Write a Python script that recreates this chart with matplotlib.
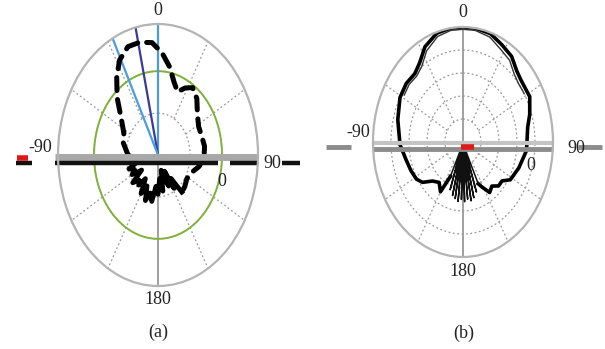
import numpy as np
import matplotlib.pyplot as plt

plt.rcParams['font.family'] = ['Liberation Serif', 'DejaVu Serif']

# ---------------- Panel (a) ----------------
# main lobe (dashed), angle in degrees, normalised radius
a_theta = [-90, -75, -64, -53, -43, -35, -28, -20, -12, -4, 3, 10, 16, 22,
           28, 34, 42, 52, 62, 72, 82, 92, 102, 112, 122, 132, 140]
a_r = [0.30, 0.36, 0.38, 0.46, 0.60, 0.72, 0.82, 0.88, 0.88, 0.86, 0.78,
       0.68, 0.58, 0.52, 0.58, 0.62, 0.58, 0.50, 0.46, 0.46, 0.47, 0.46,
       0.42, 0.36, 0.34, 0.36, 0.37]
# back-lobe ripple
a_back_theta = [140, 144, 148, 152, 156, 160, 165, 170, 175, 180, 185, 190,
                195, 200, 205, 210, 215, 220, 225, 230, 235, 240, 245, 250,
                255, 260, 265, 270]
a_back_r = [0.37, 0.22, 0.30, 0.14, 0.26, 0.20, 0.12, 0.28, 0.18, 0.30,
            0.24, 0.36, 0.30, 0.37, 0.26, 0.34, 0.22, 0.30, 0.27, 0.33,
            0.20, 0.30, 0.26, 0.31, 0.22, 0.28, 0.24, 0.30]
a_beam_theta = [0, -13, -27]
a_beam_colors = ['#4b9be0', '#3a3a9a', '#4b9be0']
a_beam_r = 1.0
a_ref_r = 0.64

# ---------------- Panel (b) ----------------
b_theta = [-155, -150, -143, -135, -128, -122, -113, -104, -92, -75, -61,
           -51, -42, -35, -27, -17, -8, 0, 8, 18, 27, 36, 44, 50, 62, 72,
           80, 96, 110, 122, 128, 134, 140, 146, 152, 155]
b_r = [0.33, 0.50, 0.44, 0.48, 0.57, 0.61, 0.63, 0.65, 0.70, 0.75, 0.80,
       0.81, 0.80, 0.84, 0.93, 0.99, 1.00, 1.00, 1.00, 0.99, 0.95, 0.92,
       0.86, 0.84, 0.84, 0.78, 0.73, 0.71, 0.66, 0.62, 0.55, 0.55, 0.50,
       0.53, 0.44, 0.40]
# second trace close to the first in the upper shoulders
b2_theta = [-58, -50, -42, -35, -27, -17, -8, 0, 8, 18, 27, 36, 44, 50, 58]
b2_r = [0.77, 0.78, 0.77, 0.80, 0.89, 0.96, 0.98, 0.98, 0.98, 0.96, 0.91,
        0.88, 0.82, 0.80, 0.80]
# back-lobe fan
b_fan_theta = [155, 158, 161, 164, 166, 168, 170, 172, 174, 176, 178, 180,
               182, 184, 186, 188, 190, 192, 194, 196, 199, 202, 205]
b_fan_r = [0.40, 0.08, 0.46, 0.08, 0.50, 0.08, 0.52, 0.08, 0.50, 0.08,
           0.52, 0.08, 0.50, 0.08, 0.52, 0.08, 0.50, 0.08, 0.48, 0.08,
           0.44, 0.08, 0.33]

angle_labels = ['0', '90', '180', '-90']
radial_label = '0'

fig = plt.figure(figsize=(6.05, 3.49), dpi=100)
ax_a = fig.add_axes([0.0959, 0.1805, 0.3306, 0.7507], projection='polar')
ax_b = fig.add_axes([0.6165, 0.2636, 0.2975, 0.659], projection='polar')

GRID = '#9a9a9a'


def base(ax, rings, spoke_start):
    ax.set_aspect('auto')
    ax.set_theta_zero_location('N')
    ax.set_theta_direction(-1)
    ax.set_rlim(0, 1)
    ax.set_xticks([])
    ax.set_yticks([])
    ax.grid(False)
    ax.spines['polar'].set_color('#b4b4b4')
    ax.spines['polar'].set_linewidth(1.6)
    full = np.linspace(0, 2 * np.pi, 361)
    for rr in rings:
        ax.plot(full, np.full_like(full, rr), color=GRID, lw=0.9,
                ls=(0, (1.5, 2)))
    for sp in [30, 60, 120, 150, 210, 240, 300, 330]:
        t = np.deg2rad(sp)
        ax.plot([t, t], [spoke_start, 1], color=GRID, lw=0.9,
                ls=(0, (1.5, 2)))
    ax.plot([np.pi, np.pi], [0, 1], color='#999999', lw=1.3)
    ax.plot([0, 0], [0, 1], color='#999999', lw=1.3)


def labels(ax, pos, inner):
    for lab, (x, y) in zip(angle_labels, pos):
        ax.text(x, y, lab, transform=ax.transAxes, ha='center', va='center',
                fontsize=13, color='#222222')
    ax.text(inner[0], inner[1], radial_label, transform=ax.transAxes,
            ha='center', va='center', fontsize=13, color='#222222')


def hbar(ax, x0, x1, y, color, lw):
    ax.plot([x0, x1], [y, y], transform=ax.transAxes, color=color, lw=lw,
            clip_on=False, solid_capstyle='butt')


# ---- panel (a)
base(ax_a, [0.32, 0.64], 0.32)
full = np.linspace(0, 2 * np.pi, 361)
ax_a.plot(full, np.full_like(full, a_ref_r), color='#7fb23a', lw=1.4)
for th, c in zip(a_beam_theta, a_beam_colors):
    t = np.deg2rad(th)
    ax_a.plot([t, t], [0, a_beam_r], color=c, lw=1.6)
ax_a.plot(np.deg2rad(a_theta), a_r, color='black', lw=3.6,
          ls=(0, (2.6, 1.8)), dash_capstyle='round')
ax_a.plot(np.deg2rad(a_back_theta), a_back_r, color='black', lw=3.4,
          solid_joinstyle='round')

hbar(ax_a, -0.015, 1.0, 0.492, '#a8a8a8', 5)
hbar(ax_a, -0.015, 0.80, 0.469, '#111111', 3.2)
hbar(ax_a, 0.86, 1.0, 0.469, '#111111', 3.2)
hbar(ax_a, 1.12, 1.21, 0.469, '#111111', 3.2)
hbar(ax_a, -0.21, -0.13, 0.468, '#111111', 3.2)
hbar(ax_a, -0.205, -0.15, 0.49, '#e01818', 4)
labels(ax_a, [(0.5, 1.053), (1.07, 0.469), (0.5, -0.053), (-0.09, 0.53)],
       (0.82, 0.40))

# ---- panel (b)
base(ax_b, [0.2, 0.4, 0.6, 0.8], 0.2)
ax_b.plot(np.deg2rad(b2_theta), b2_r, color='#333333', lw=1.0)
ax_b.plot(np.deg2rad(b_theta), b_r, color='black', lw=2.6,
          solid_joinstyle='round')
ax_b.plot(np.deg2rad(b_fan_theta), b_fan_r, color='#111111', lw=1.1)

hbar(ax_b, 0.0, 1.0, 0.495, '#c4c4c4', 3)
hbar(ax_b, 0.0, 1.0, 0.468, '#8c8c8c', 3.5)
hbar(ax_b, -0.26, -0.12, 0.478, '#8c8c8c', 3.5)
hbar(ax_b, 1.14, 1.27, 0.478, '#8c8c8c', 3.5)
hbar(ax_b, 0.49, 0.56, 0.478, '#e01818', 4)
labels(ax_b, [(0.5, 1.065), (1.13, 0.47), (0.5, -0.065), (-0.083, 0.54)],
       (0.878, 0.40))

fig.text(158 / 605, 1 - 332 / 349, '(a)', ha='center', va='center',
         fontsize=13, color='#222222')
fig.text(464 / 605, 1 - 333 / 349, '(b)', ha='center', va='center',
         fontsize=13, color='#222222')

fig.savefig('out.png', dpi=100)
